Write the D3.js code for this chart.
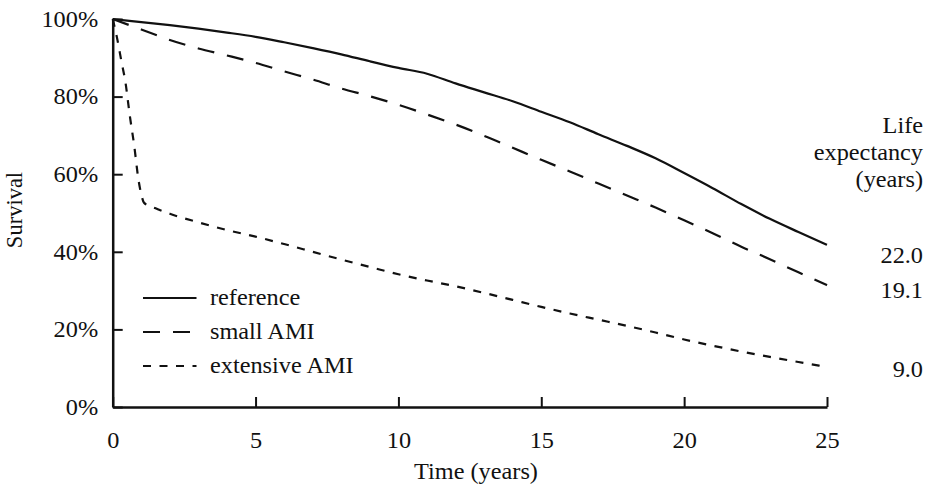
<!DOCTYPE html>
<html>
<head>
<meta charset="utf-8">
<script src="https://cdn.jsdelivr.net/npm/d3@7"></script>
<style>
  html, body { margin: 0; padding: 0; background: #fff; }
  svg { display: block; }
</style>
</head>
<body>
<svg id="chart" width="937" height="495"></svg>
<script>
// Survival (%) by year of follow-up
const years = [0, 1, 2, 3, 4, 5, 6, 7, 8, 9, 10, 11, 12, 13, 14, 15, 16, 17, 18, 19, 20, 21, 22, 23, 24, 25];
const referenceSurvival = [100, 99.2, 98.4, 97.5, 96.5, 95.4, 94.0, 92.5, 90.9, 89.1, 87.4, 85.9, 83.4, 81.1, 78.8, 76.1, 73.4, 70.3, 67.3, 64.1, 60.3, 56.4, 52.3, 48.5, 45.1, 41.8];
const smallAmiSurvival = [100, 97.3, 94.6, 92.4, 90.6, 88.7, 86.5, 84.4, 82.1, 80.1, 77.9, 75.4, 72.8, 69.9, 66.8, 63.7, 60.7, 57.6, 54.5, 51.4, 48.1, 44.8, 41.3, 38.1, 34.7, 31.4];

// Extensive AMI has a steep early drop, so its first year is sampled more finely
const extensiveYears = [0, 0.15, 0.3, 0.45, 0.6, 0.75, 0.9, 1.0, 1.1, 1.5, 2, 3, 4, 5, 6, 7, 8, 9, 10, 11, 12, 13, 14, 15, 16, 17, 18, 19, 20, 21, 22, 23, 24, 25];
const extensiveAmiSurvival = [100, 95.2, 89.3, 83.5, 75.0, 67.5, 58.7, 54.8, 52.6, 51.2, 49.8, 47.6, 45.6, 43.9, 42.0, 40.0, 38.0, 36.1, 34.2, 32.6, 31.1, 29.4, 27.6, 25.8, 24.1, 22.5, 20.9, 19.2, 17.4, 15.8, 14.3, 12.9, 11.6, 10.3];

const seriesNames = ["reference", "small AMI", "extensive AMI"];
const lifeExpectancy = ["22.0", "19.1", "9.0"];
const lifeExpectancyHeader = ["Life", "expectancy", "(years)"];

const xTicks = [0, 5, 10, 15, 20, 25];
const yTicks = [0, 20, 40, 60, 80, 100];

// ---- layout ----
const svg = d3.select("#chart");
const FONT = "'Liberation Serif', 'Times New Roman', Times, 'DejaVu Serif', serif";
const FS = 22.5;          // font size
const SX = 1.08;          // slight horizontal widening of the serif face
const plot = { left: 112.7, right: 827, top: 19, bottom: 407 };

const x = d3.scaleLinear().domain([0, 25]).range([plot.left, plot.right]);
const y = d3.scaleLinear().domain([0, 100]).range([plot.bottom, plot.top]);

function styleText(sel) {
  return sel.style("font-family", FONT).style("font-size", FS + "px").style("fill", "#111");
}

function label(g, tx, ty, str, anchor) {
  return styleText(g.append("text")
    .attr("transform", `translate(${tx},${ty}) scale(${SX},1)`)
    .attr("text-anchor", anchor || "start")
    .text(str));
}

// ---- axes ----
const yAxis = d3.axisLeft(y).tickValues(yTicks).tickSizeInner(-10).tickSizeOuter(0)
  .tickPadding(13.5).tickFormat(d => d + "%");
const gy = svg.append("g").attr("transform", `translate(${plot.left},0)`).call(yAxis);

const xAxis = d3.axisBottom(x).tickValues(xTicks).tickSizeInner(-10).tickSizeOuter(0)
  .tickPadding(25).tickFormat(d3.format("d"));
const gx = svg.append("g").attr("transform", `translate(0,${plot.bottom})`).call(xAxis);

[gx, gy].forEach(g => {
  g.attr("font-family", null).attr("font-size", null);
  g.select(".domain").attr("stroke", "#111").attr("stroke-width", 2.5);
  g.selectAll(".tick line").attr("stroke", "#111").attr("stroke-width", 2);
  styleText(g.selectAll(".tick text")).attr("transform", `scale(${SX},1)`);
});
gy.selectAll(".tick text").attr("x", -13.5);

// Axis titles
styleText(svg.append("text")
  .attr("transform", `translate(22,210) rotate(-90)`)
  .attr("text-anchor", "middle")
  .text("Survival"));
label(svg, 476, 479, "Time (years)", "middle");

// ---- survival curves ----
const line = d3.line().x(d => x(d[0])).y(d => y(d[1])).curve(d3.curveMonotoneX);
const curves = [
  { name: seriesNames[0], pts: d3.zip(years, referenceSurvival), dash: null },
  { name: seriesNames[1], pts: d3.zip(years, smallAmiSurvival), dash: "17,13" },
  { name: seriesNames[2], pts: d3.zip(extensiveYears, extensiveAmiSurvival), dash: "8,8.5" }
];

svg.append("g").selectAll("path").data(curves).join("path")
  .attr("d", d => line(d.pts))
  .attr("fill", "none")
  .attr("stroke", "#111")
  .attr("stroke-width", 2.2)
  .attr("stroke-dasharray", d => d.dash);

// ---- legend ----
const legendRowY = [298, 332, 366];
const legend = svg.append("g");
curves.forEach((c, i) => {
  legend.append("line")
    .attr("x1", 143).attr("x2", 196.5)
    .attr("y1", legendRowY[i]).attr("y2", legendRowY[i])
    .attr("stroke", "#111").attr("stroke-width", 2)
    .attr("stroke-dasharray", c.dash);
  label(legend, 210, legendRowY[i] + 6.5, c.name);
});

// ---- life expectancy column ----
const colRight = 923;
const headerBaseline = [133, 160, 187];
lifeExpectancyHeader.forEach((t, i) => label(svg, colRight, headerBaseline[i], t, "end"));
const valueBaseline = [263, 298, 377];
lifeExpectancy.forEach((t, i) => label(svg, colRight, valueBaseline[i], t, "end"));
</script>
</body>
</html>
